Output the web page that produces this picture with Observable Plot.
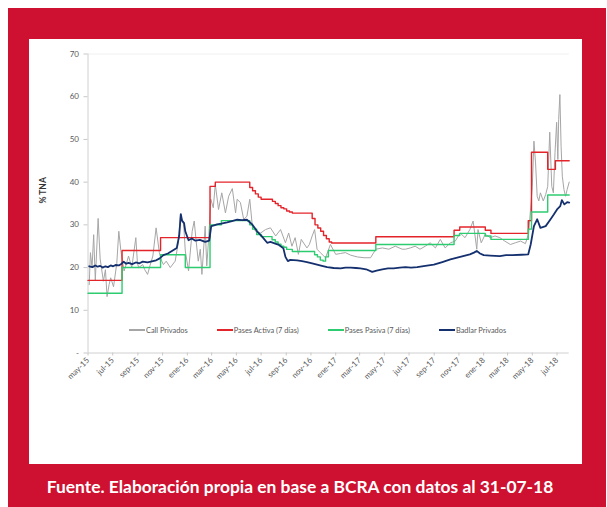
<!DOCTYPE html>
<html>
<head>
<meta charset="utf-8">
<script src="https://cdn.jsdelivr.net/npm/d3@7"></script>
<script src="https://cdn.jsdelivr.net/npm/@observablehq/plot@0.6"></script>
<style>
  html, body { margin: 0; padding: 0; background: #ffffff; }
  #frame { position: absolute; left: 8px; top: 8px; width: 598px; height: 499px; background: #CE1130; }
  #panel { position: absolute; left: 21px; top: 30.5px; width: 553px; height: 425px; background: #ffffff; }
  #panel svg { position: absolute; left: 0; top: 0; }
  #legend { position: absolute; left: 100px; top: 287px; display: flex; gap: 29px; align-items: center;
            font: 7.4px Lato, sans-serif; color: #595959; }
  #legend .item { display: flex; align-items: center; }
  #legend .sw { display: inline-block; width: 16px; height: 1.6px; margin-right: 1px; }
  #caption { position: absolute; left: 0; width: 584px; top: 470px; text-align: center; color: #ffffff;
             font: bold 17.4px/17px Lato, sans-serif; white-space: nowrap; }
</style>
</head>
<body>
<div id="frame">
  <div id="panel"><div id="legend"></div></div>
  <div id="caption">Fuente. Elaboración propia en base a BCRA con datos al 31-07-18</div>
</div>
<script>
// ---- Data ----
const seriesNames = ["Call Privados", "Pases Activa (7 días)", "Pases Pasiva (7 días)", "Badlar Privados"];
const seriesColors = ["#a6a6a6", "#e3242b", "#2ecc71", "#14306e"];

const xTickDates = ["2015-05-01","2015-07-01","2015-09-01","2015-11-01","2016-01-01","2016-03-01","2016-05-01",
  "2016-07-01","2016-09-01","2016-11-01","2017-01-01","2017-03-01","2017-05-01","2017-07-01","2017-09-01",
  "2017-11-01","2018-01-01","2018-03-01","2018-05-01","2018-07-01"];
const xTickLabels = ["may-15","jul-15","sep-15","nov-15","ene-16","mar-16","may-16","jul-16","sep-16","nov-16",
  "ene-17","mar-17","may-17","jul-17","sep-17","nov-17","ene-18","mar-18","may-18","jul-18"];
const yTicks = [0, 10, 20, 30, 40, 50, 60, 70];
const yTickLabels = ["-", "10", "20", "30", "40", "50", "60", "70"];

const callPrivados = [
["2015-05-04",16],["2015-05-07",23.5],["2015-05-11",20],["2015-05-15",27.7],["2015-05-19",17],["2015-05-26",31.5],
["2015-05-31",22],["2015-06-08",16.8],["2015-06-13",19.5],["2015-06-17",13.2],["2015-06-22",16],["2015-06-26",17.6],
["2015-07-03",15.5],["2015-07-11",21],["2015-07-16",28.5],["2015-07-21",24],["2015-07-29",19.2],["2015-08-04",21],
["2015-08-09",22.7],["2015-08-17",20],["2015-08-27",27],["2015-08-31",21],["2015-09-03",20],["2015-09-13",20.7],
["2015-09-18",19.5],["2015-09-25",18.4],["2015-10-01",20.5],["2015-10-08",22.7],["2015-10-16",29.3],["2015-10-24",23.5],
["2015-10-30",21.5],["2015-11-03",20.7],["2015-11-10",21.5],["2015-11-20",20],["2015-12-02",21.5],["2015-12-10",26],
["2015-12-15",32.4],["2015-12-23",30.1],["2015-12-27",23.9],["2016-01-04",19.2],["2016-01-13",28.5],["2016-01-18",30.9],
["2016-01-23",26],["2016-01-28",21.5],["2016-02-02",24.3],["2016-02-06",18.4],["2016-02-14",29.7],["2016-02-18",20.4],
["2016-02-23",27.4],["2016-02-28",36],["2016-03-05",34],["2016-03-10",39.5],["2016-03-18",33.6],["2016-03-26",37.5],
["2016-04-04",32.8],["2016-04-12",36.7],["2016-04-21",38.5],["2016-04-29",32.8],["2016-05-03",36],["2016-05-11",35.2],
["2016-05-19",31.3],["2016-05-27",32],["2016-06-03",36],["2016-06-09",30.1],["2016-06-17",28.5],["2016-06-30",28.1],
["2016-07-12",28.9],["2016-07-24",29.3],["2016-08-06",27.4],["2016-08-18",28.9],["2016-08-30",25.8],["2016-09-07",28.1],
["2016-09-15",25],["2016-09-23",27],["2016-10-01",23.1],["2016-10-08",26.6],["2016-10-22",24.6],["2016-10-28",25.4],
["2016-11-04",27.4],["2016-11-10",28.9],["2016-11-16",24.3],["2016-11-24",23.5],["2016-12-07",22.3],["2016-12-19",25.4],
["2017-01-01",23.1],["2017-01-13",23.3],["2017-01-25",23.5],["2017-02-07",22.9],["2017-02-23",22.5],["2017-03-12",22.3],
["2017-03-28",22.3],["2017-04-10",24.3],["2017-04-26",24.6],["2017-05-12",24.3],["2017-05-28",25],["2017-06-14",24.3],
["2017-06-22",24.3],["2017-07-04",24.6],["2017-07-16",25],["2017-07-28",24.3],["2017-08-10",25],["2017-08-22",25.8],
["2017-09-04",24.6],["2017-09-16",26.6],["2017-09-28",24.6],["2017-10-11",25.8],["2017-10-23",26.2],["2017-11-04",28.1],
["2017-11-16",27],["2017-11-28",28.9],["2017-12-06",30.9],["2017-12-15",24.3],["2017-12-18",28.9],["2017-12-26",25.8],
["2018-01-05",27.8],["2018-01-17",27],["2018-01-29",27.4],["2018-02-10",27],["2018-02-22",26.2],["2018-03-08",25.4],
["2018-03-20",25.8],["2018-04-02",26.2],["2018-04-14",25.6],["2018-04-22",28],["2018-05-01",39],["2018-05-05",49.6],
["2018-05-09",44.5],["2018-05-13",36.7],["2018-05-17",35.6],["2018-05-21",37.5],["2018-05-28",35.6],["2018-06-03",37.1],
["2018-06-08",39],["2018-06-13",51.7],["2018-06-18",39],["2018-06-22",37.5],["2018-06-26",46.9],["2018-06-30",54],
["2018-07-03",45.3],["2018-07-05",54.7],["2018-07-08",60.5],["2018-07-11",48.4],["2018-07-14",41.4],["2018-07-18",38.3],
["2018-07-22",36.7],["2018-07-26",38.3],["2018-07-31",40]
];

const pasesActiva = [
["2015-05-01",17],["2015-07-24",24],["2015-10-27",27],["2016-02-26",39],["2016-03-10",40],["2016-06-03",38.75],
["2016-06-10",38],["2016-06-17",37.25],["2016-06-24",36.5],["2016-07-01",36],["2016-07-29",35.5],["2016-08-05",35],
["2016-08-12",34.5],["2016-08-19",34],["2016-08-26",33.75],["2016-09-02",33.25],["2016-09-09",33],["2016-09-16",32.75],
["2016-11-04",31.5],["2016-11-11",30],["2016-11-18",29.25],["2016-11-25",28.5],["2016-12-02",27.5],["2016-12-09",26.75],
["2016-12-16",26],["2016-12-22",25.75],["2017-04-10",27.2],["2017-10-20",28.75],["2017-11-03",29.5],["2018-01-05",28.75],
["2018-01-19",28],["2018-04-21",31],["2018-04-29",47],["2018-06-08",43],["2018-06-27",45],["2018-07-31",45]
];

const pasesPasiva = [
["2015-05-01",14],["2015-07-24",20],["2015-10-27",23],["2015-12-27",20],["2016-02-26",30],["2016-03-25",31],
["2016-06-03",30],["2016-06-10",29],["2016-06-20",27.75],["2016-07-01",27.25],["2016-07-28",26.5],["2016-08-05",26],
["2016-08-12",25.5],["2016-08-19",25],["2016-08-26",24.75],["2016-09-02",24.25],["2016-09-16",23.75],["2016-11-10",23],
["2016-11-17",22.5],["2016-11-24",21.75],["2016-12-01",21.5],["2016-12-07",22.5],["2016-12-14",24],["2017-04-10",25.4],
["2017-10-20",27.5],["2017-11-03",28],["2018-01-05",27.4],["2018-01-19",26.6],["2018-04-21",29],["2018-04-29",33],
["2018-06-08",37],["2018-07-31",37]
];

const badlarPrivados = [
["2015-05-04",20.3],["2015-05-12",20.1],["2015-05-19",20.5],["2015-05-25",20.2],["2015-05-31",20.4],["2015-06-06",20.0],
["2015-06-13",20.3],["2015-06-19",20.1],["2015-06-26",20.5],["2015-07-02",20.3],["2015-07-08",20.6],["2015-07-16",20.5],
["2015-07-23",20.9],["2015-07-28",21.4],["2015-08-03",20.9],["2015-08-09",21.1],["2015-08-18",20.8],["2015-08-27",21.2],
["2015-09-05",21.0],["2015-09-13",21.4],["2015-09-25",21.2],["2015-10-08",21.5],["2015-10-16",21.7],["2015-10-24",22.1],
["2015-11-03",22.9],["2015-11-14",23.3],["2015-11-24",23.9],["2015-12-06",24.6],["2015-12-12",27.5],["2015-12-16",32.5],
["2015-12-19",31.0],["2015-12-24",30.4],["2015-12-27",28.5],["2016-01-04",26.4],["2016-01-12",26.8],["2016-01-21",26.3],
["2016-02-01",26.5],["2016-02-14",26.0],["2016-02-24",26.3],["2016-02-29",29.7],["2016-03-07",29.9],["2016-03-14",30.1],
["2016-03-25",30.3],["2016-04-08",30.6],["2016-04-20",30.9],["2016-05-03",31.2],["2016-05-15",31.1],["2016-05-27",31.2],
["2016-06-09",30.1],["2016-06-15",29.3],["2016-06-21",28.5],["2016-07-03",27.3],["2016-07-16",25.8],["2016-07-24",26.0],
["2016-08-05",25.6],["2016-08-14",25.3],["2016-08-25",24.5],["2016-08-30",22.5],["2016-09-05",21.5],["2016-09-11",21.8],
["2016-09-28",21.7],["2016-10-10",21.5],["2016-10-22",21.3],["2016-11-04",21.0],["2016-11-16",20.7],["2016-11-28",20.4],
["2016-12-11",20.1],["2016-12-27",19.9],["2017-01-13",19.8],["2017-01-25",20.0],["2017-02-07",20.0],["2017-02-20",19.9],
["2017-03-03",19.8],["2017-03-17",19.6],["2017-04-01",19.0],["2017-04-12",19.3],["2017-04-26",19.6],["2017-05-10",19.8],
["2017-05-24",19.8],["2017-06-08",20.0],["2017-06-22",20.1],["2017-07-06",20.0],["2017-07-21",20.1],["2017-08-10",20.4],
["2017-08-31",20.7],["2017-09-21",21.3],["2017-10-11",21.9],["2017-10-23",22.2],["2017-11-04",22.5],["2017-11-16",22.8],
["2017-11-28",23.1],["2017-12-08",23.5],["2017-12-15",23.9],["2017-12-23",23.3],["2018-01-01",22.9],["2018-01-17",22.8],
["2018-02-10",22.7],["2018-02-25",22.9],["2018-03-13",22.9],["2018-04-04",23.0],["2018-04-21",23.1],["2018-04-27",25.4],
["2018-05-05",29.7],["2018-05-13",31.3],["2018-05-21",29.3],["2018-06-03",29.7],["2018-06-15",31.3],["2018-06-23",32.4],
["2018-07-01",33.6],["2018-07-09",34.4],["2018-07-13",35.8],["2018-07-19",34.8],["2018-07-26",35.3],["2018-07-31",35.2]
];

const xDomain = ["2015-05-01", "2018-07-31"];

// ---- Build tables ----
const toRows = (arr) => arr.map(([d, v]) => ({date: new Date(d + "T00:00:00Z"), value: v}));
const callRows = toRows(callPrivados);
const activaRows = toRows(pasesActiva);
const pasivaRows = toRows(pasesPasiva);
const badlarRows = toRows(badlarPrivados);
const tickDates = xTickDates.map(d => new Date(d + "T00:00:00Z"));
const xLabelMap = new Map(xTickDates.map((d, i) => [d, xTickLabels[i]]));
const yLabelMap = new Map(yTicks.map((t, i) => [t, yTickLabels[i]]));

const chart = Plot.plot({
  width: 553,
  height: 425,
  marginLeft: 58.5,
  marginRight: 13.3,
  marginTop: 14.5,
  marginBottom: 111.5,
  style: {background: "transparent", fontFamily: "Lato, sans-serif", fontSize: "8px", color: "#595959", overflow: "visible"},
  x: {type: "utc", domain: xDomain.map(d => new Date(d + "T00:00:00Z"))},
  y: {domain: [0, 70]},
  marks: [
    Plot.ruleY([70], {stroke: "#f0f0f0", strokeWidth: 1}),
    Plot.ruleX([new Date(xDomain[0] + "T00:00:00Z")], {stroke: "#d0d0d0", strokeWidth: 1}),
    Plot.ruleY([0], {stroke: "#d0d0d0", strokeWidth: 1}),
    Plot.axisY({ticks: yTicks, tickFormat: d => yLabelMap.get(d), tickSize: 4, tickPadding: 5,
      stroke: "#c8c8c8", fill: "#595959", fontSize: 8, label: null}),
    Plot.axisX({ticks: tickDates, tickFormat: d => xLabelMap.get(d.toISOString().slice(0, 10)),
      tickRotate: -45, tickSize: 3, tickPadding: 3, stroke: "#c8c8c8", fill: "#595959", fontSize: 8, label: null}),
    Plot.text(["% TNA"], {frameAnchor: "left", dx: -45, rotate: -90, fontWeight: "bold", fontSize: 8.5, fill: "#333333"}),
    Plot.line(callRows, {x: "date", y: "value", stroke: seriesColors[0], strokeWidth: 1}),
    Plot.line(activaRows, {x: "date", y: "value", curve: "step-after", stroke: seriesColors[1], strokeWidth: 1.4}),
    Plot.line(pasivaRows, {x: "date", y: "value", curve: "step-after", stroke: seriesColors[2], strokeWidth: 1.4}),
    Plot.line(badlarRows, {x: "date", y: "value", stroke: seriesColors[3], strokeWidth: 1.8})
  ]
});
document.getElementById("panel").prepend(chart);

// ---- Legend ----
const legend = document.getElementById("legend");
seriesNames.forEach((name, i) => {
  const item = document.createElement("div");
  item.className = "item";
  const sw = document.createElement("span");
  sw.className = "sw";
  sw.style.background = seriesColors[i];
  const tx = document.createElement("span");
  tx.textContent = name;
  item.appendChild(sw);
  item.appendChild(tx);
  legend.appendChild(item);
});
</script>
</body>
</html>
